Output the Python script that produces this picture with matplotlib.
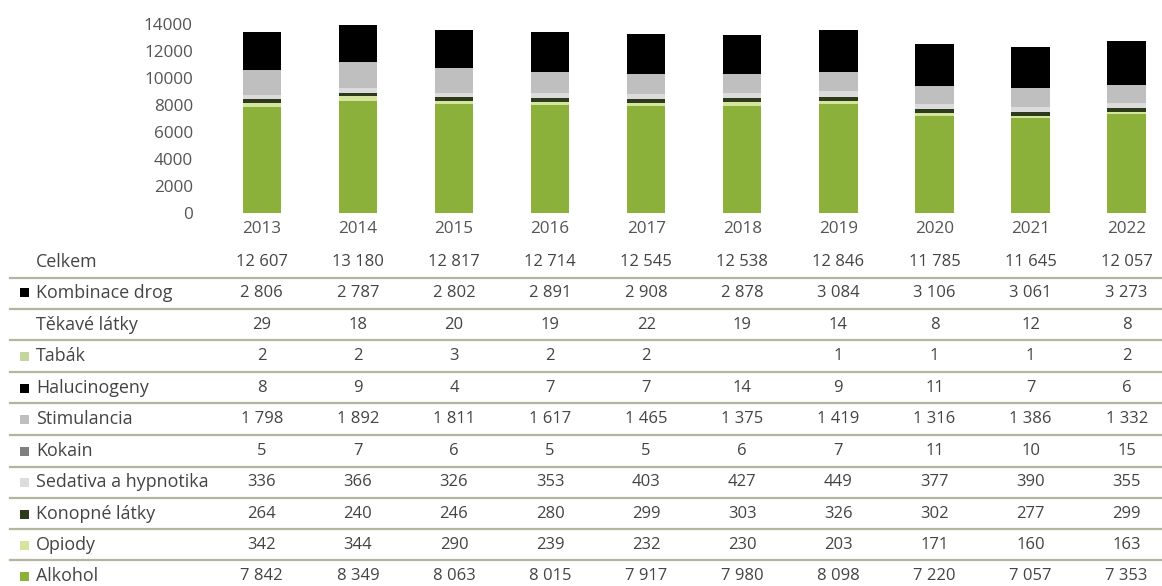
import numpy as np
import matplotlib
matplotlib.use("Agg")
import matplotlib.pyplot as plt
from matplotlib import transforms
from matplotlib.patches import Rectangle

plt.rcParams['font.family'] = ['Open Sans', 'DejaVu Sans']

years = ['2013', '2014', '2015', '2016', '2017', '2018', '2019', '2020', '2021', '2022']

celkem = [12607, 13180, 12817, 12714, 12545, 12538, 12846, 11785, 11645, 12057]
alkohol = [7842, 8349, 8063, 8015, 7917, 7980, 8098, 7220, 7057, 7353]
opiody = [342, 344, 290, 239, 232, 230, 203, 171, 160, 163]
konopne = [264, 240, 246, 280, 299, 303, 326, 302, 277, 299]
sedativa = [336, 366, 326, 353, 403, 427, 449, 377, 390, 355]
kokain = [5, 7, 6, 5, 5, 6, 7, 11, 10, 15]
stimulancia = [1798, 1892, 1811, 1617, 1465, 1375, 1419, 1316, 1386, 1332]
halucinogeny = [8, 9, 4, 7, 7, 14, 9, 11, 7, 6]
tabak = [2, 2, 3, 2, 2, None, 1, 1, 1, 2]
tekave = [29, 18, 20, 19, 22, 19, 14, 8, 12, 8]
kombinace = [2806, 2787, 2802, 2891, 2908, 2878, 3084, 3106, 3061, 3273]

# stacking order, bottom to top: (label, values, colour)
series = [
    ('Alkohol', alkohol, '#8cb13b'),
    ('Opiody', opiody, '#d6e59e'),
    ('Konopné látky', konopne, '#2e3a1c'),
    ('Sedativa a hypnotika', sedativa, '#dcdcdc'),
    ('Kokain', kokain, '#7f7f7f'),
    ('Stimulancia', stimulancia, '#bfbfbf'),
    ('Halucinogeny', halucinogeny, '#000000'),
    ('Tabák', tabak, '#c4d69c'),
    ('Těkavé látky', tekave, '#ffffff'),
    ('Kombinace drog', kombinace, '#000000'),
]

# table rows, top to bottom: (label, values, key colour or None)
table_rows = [
    ('Celkem', celkem, None),
    ('Kombinace drog', kombinace, '#000000'),
    ('Těkavé látky', tekave, None),
    ('Tabák', tabak, '#c4d69c'),
    ('Halucinogeny', halucinogeny, '#000000'),
    ('Stimulancia', stimulancia, '#bfbfbf'),
    ('Kokain', kokain, '#7f7f7f'),
    ('Sedativa a hypnotika', sedativa, '#dcdcdc'),
    ('Konopné látky', konopne, '#2e3a1c'),
    ('Opiody', opiody, '#d6e59e'),
    ('Alkohol', alkohol, '#8cb13b'),
]

W, H = 1162, 586
fig = plt.figure(figsize=(W / 100, H / 100), dpi=100)

def fy(px):
    return 1 - px / H

# bar area
ax_left, ax_right = 213.7, 1162
ax_top, ax_bottom = 24.5, 213
ax = fig.add_axes([ax_left / W, fy(ax_bottom), (ax_right - ax_left) / W, (ax_bottom - ax_top) / H])

x = np.arange(len(years))
bottom = np.zeros(len(years))
for name, vals, col in series:
    v = np.array([0 if a is None else a for a in vals], dtype=float)
    ax.bar(x, v, width=0.4, bottom=bottom, color=col, edgecolor='none', label=name)
    bottom += v

step = 96.1
ax.set_xlim(-0.5, -0.5 + (ax_right - ax_left) / step)
ax.set_ylim(0, 14000)
ax.set_yticks(np.arange(0, 14001, 2000))
ax.set_xticks(x)
ax.set_xticklabels(years)
ax.tick_params(axis='both', length=0, labelsize=12.3, colors='#555555')
ax.tick_params(axis='y', pad=15)
ax.tick_params(axis='x', pad=6)
for s in ax.spines.values():
    s.set_visible(False)

# data table below the bars
text_color = '#444444'
fs = 12
fs_label = 12.9
row_y = [262, 293, 325, 356, 388, 419, 451, 482, 514, 545, 576]
line_y = [278, 309, 340, 372, 403, 435, 467, 498, 529, 560]
tr = transforms.blended_transform_factory(ax.transData, fig.transFigure)

def fmt(v):
    if v is None:
        return ''
    return f'{v:,}'.replace(',', ' ')

for (label, vals, key), yp in zip(table_rows, row_y):
    fig.text(36 / W, fy(yp), label, ha='left', va='center', fontsize=fs_label, color=text_color)
    if key is not None:
        fig.patches.append(Rectangle((20 / W, fy(yp + 4.5)), 9 / W, 9 / H,
                                     transform=fig.transFigure, facecolor=key,
                                     edgecolor='none'))
    for i, v in enumerate(vals):
        fig.text(i, fy(yp), fmt(v), transform=tr, ha='center', va='center',
                 fontsize=fs, color=text_color)

for yl in line_y:
    fig.add_artist(plt.Line2D([10 / W, 1.0], [fy(yl), fy(yl)], transform=fig.transFigure,
                              color='#b3b69e', lw=1.6))

fig.savefig('out.png', dpi=100)
